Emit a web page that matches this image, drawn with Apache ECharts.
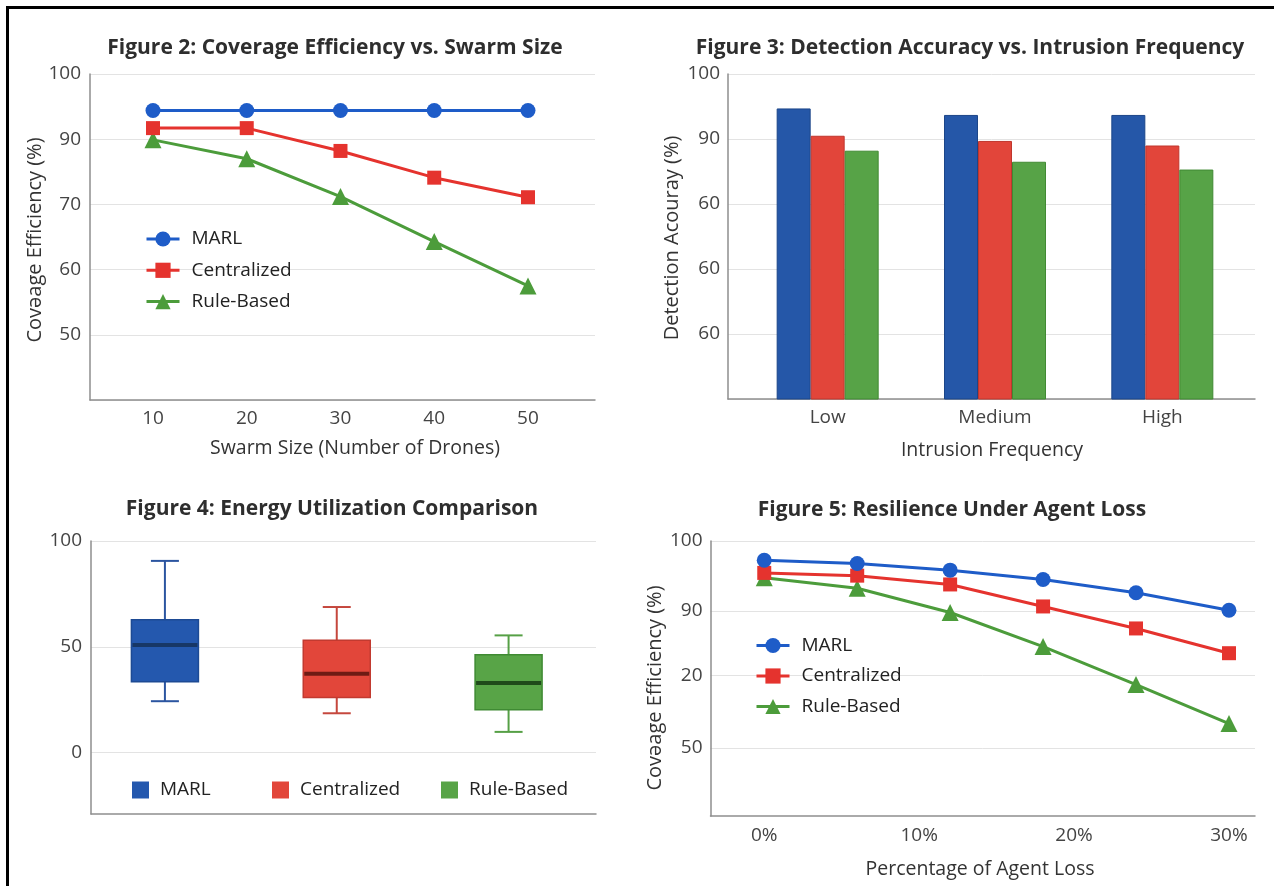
<!DOCTYPE html>
<html><head><meta charset="utf-8">
<script src="https://cdn.jsdelivr.net/npm/echarts@6/dist/echarts.min.js"></script>
<style>
html,body{margin:0;padding:0;background:#fff;}
#chart{position:absolute;left:0;top:0;width:1274px;height:886px;}
#frame{position:absolute;left:6px;top:6px;width:1268px;height:880px;border-left:3px solid #000;border-top:3px solid #000;box-sizing:border-box;pointer-events:none;}
</style></head><body>
<div id="chart"></div><div id="frame"></div>
<script>
// ---------------- data ----------------
const seriesNames = ['MARL', 'Centralized', 'Rule-Based'];
// Figure 2
const swarmSizes = [10, 20, 30, 40, 50];
const cov2MARL = [94.4, 94.4, 94.4, 94.4, 94.4];
const cov2Central = [91.7, 91.7, 88.2, 84.1, 81.1];
const cov2Rule = [89.9, 87.0, 81.2, 74.3, 67.5];
const fig2YTickLabels = ['', '50', '60', '70', '90', '100'];
// Figure 3
const intrusionFreq = ['Low', 'Medium', 'High'];
const det3MARL = [94.7, 93.7, 93.7];
const det3Central = [90.5, 89.7, 89.0];
const det3Rule = [88.2, 86.5, 85.3];
const fig3YTickLabels = ['', '60', '60', '60', '90', '100'];
// Figure 4: [min, Q1, median, Q3, max]
const energyMARL = [24.3, 33.5, 50.9, 62.8, 90.6];
const energyCentral = [18.6, 26.0, 37.3, 53.1, 68.8];
const energyRule = [9.8, 20.3, 32.9, 46.3, 55.4];
const fig4YTicks = [0, 50, 100];
// Figure 5
const agentLoss = [0, 6, 12, 18, 24, 30];
const res5MARL = [96.5, 95.9, 94.7, 93.0, 90.6, 87.4];
const res5Central = [94.2, 93.7, 92.1, 88.1, 84.1, 79.6];
const res5Rule = [93.3, 91.4, 87.0, 80.8, 73.9, 66.8];
const fig5XTicks = [0, 10, 20, 30];
const fig5YTickValues = [62.4, 75.6, 87.3, 100];
const fig5YTickLabels = ['50', '20', '90', '100'];

// ---------------- styles ----------------
const FONT = '"Open Sans", "Noto Sans", sans-serif';
const lineColors = ['#1e5cc8', '#e5332e', '#4c9c3b'];
const barColors = ['#2557a8', '#e2453a', '#57a347'];
const barBorders = ['#1c4689', '#c0362d', '#418a33'];
const boxFill = ['#2458ae', '#e2463a', '#58a447'];
const boxBorder = ['#1d4a94', '#c23a30', '#3f8a33'];
const boxMedian = ['#173766', '#6e1b14', '#1f4a1a'];
const boxWhisker = ['#2b55a0', '#c5473d', '#56a046'];
const symbols = ['circle', 'rect', 'triangle'];
const symbolSizes = [15, 14, 17];

const axisLineStyle = { show: true, onZero: false, lineStyle: { color: '#8e8e8e', width: 1.5 } };
const splitLineStyle = { show: true, lineStyle: { color: '#e3e3e3', width: 1 } };
const tickLabel = { color: '#444', fontSize: 19, fontFamily: FONT };

const zip = (xs, ys) => xs.map((x, i) => [x, ys[i]]);

const chart = echarts.init(document.getElementById('chart'), null, { renderer: 'canvas' });

const grids = [
  { left: 90, top: 74, width: 505, height: 326 },      // 0 fig2
  { left: 728, top: 74, width: 527, height: 325 },     // 1 fig3 frame
  { left: 744, top: 74, width: 502, height: 325 },     // 2 fig3 bars
  { left: 91, top: 541, width: 505, height: 273 },     // 3 fig4 frame
  { left: 79, top: 541, width: 515.5, height: 273 },   // 4 fig4 boxes
  { left: 710.5, top: 541, width: 544.5, height: 275 } // 5 fig5
];

const xAxes = [
  { gridIndex: 0, type: 'value', min: 3.28, max: 57.15, axisLine: axisLineStyle, axisTick: { show: false, customValues: swarmSizes },
    axisLabel: Object.assign({ margin: 9, customValues: swarmSizes }, tickLabel), splitLine: { show: false } },
  { gridIndex: 1, type: 'value', min: 0, max: 1, axisLine: axisLineStyle, axisTick: { show: false }, axisLabel: { show: false }, splitLine: { show: false } },
  { gridIndex: 2, type: 'category', data: intrusionFreq, axisLine: { show: false }, axisTick: { show: false },
    axisLabel: Object.assign({ margin: 9 }, tickLabel), splitLine: { show: false } },
  { gridIndex: 3, type: 'value', min: 0, max: 1, axisLine: axisLineStyle, axisTick: { show: false }, axisLabel: { show: false }, splitLine: { show: false } },
  { gridIndex: 4, type: 'category', data: seriesNames, show: false },
  { gridIndex: 5, type: 'value', min: -3.47, max: 31.68, axisLine: axisLineStyle, axisTick: { show: false, customValues: fig5XTicks },
    axisLabel: Object.assign({ margin: 10, customValues: fig5XTicks, formatter: '{value}%' }, tickLabel), splitLine: { show: false } }
];

const yAxes = [
  { gridIndex: 0, type: 'value', min: 50, max: 100, interval: 10, axisLine: axisLineStyle, axisTick: { show: false },
    axisLabel: Object.assign({ margin: 9, formatter: v => fig2YTickLabels[Math.round((v - 50) / 10)] }, tickLabel), splitLine: splitLineStyle },
  { gridIndex: 1, type: 'value', min: 50, max: 100, interval: 10, axisLine: axisLineStyle, axisTick: { show: false },
    axisLabel: Object.assign({ margin: 8, formatter: v => fig3YTickLabels[Math.round((v - 50) / 10)] }, tickLabel), splitLine: splitLineStyle },
  { gridIndex: 2, type: 'value', min: 50, max: 100, show: false, splitLine: { show: false } },
  { gridIndex: 3, type: 'value', min: -29, max: 100, axisLine: axisLineStyle, axisTick: { show: false, customValues: fig4YTicks },
    axisLabel: Object.assign({ margin: 9, customValues: fig4YTicks }, tickLabel), splitLine: splitLineStyle },
  { gridIndex: 4, type: 'value', min: -29, max: 100, show: false, splitLine: { show: false } },
  { gridIndex: 5, type: 'value', min: 50, max: 100, axisLine: axisLineStyle, axisTick: { show: false, customValues: fig5YTickValues },
    axisLabel: Object.assign({ margin: 8, customValues: fig5YTickValues,
      formatter: v => { const i = fig5YTickValues.findIndex(t => Math.abs(t - v) < 1e-6); return i >= 0 ? fig5YTickLabels[i] : ''; } }, tickLabel),
    splitLine: splitLineStyle }
];

function lineSeries(name, idx, axisIndex, data) {
  return {
    name, type: 'line', xAxisIndex: axisIndex, yAxisIndex: axisIndex, data,
    symbol: symbols[idx], symbolSize: symbolSizes[idx], showSymbol: true,
    lineStyle: { color: lineColors[idx], width: 3 },
    itemStyle: { color: lineColors[idx] }, z: 3 + (2 - idx), animation: false
  };
}
function barSeries(name, idx, data) {
  return {
    name, type: 'bar', xAxisIndex: 2, yAxisIndex: 2, data, barWidth: 34, barGap: '0%',
    itemStyle: { color: barColors[idx], borderColor: barBorders[idx], borderWidth: 1 }, animation: false
  };
}
function boxSeries(name, idx, stats) {
  return {
    name, type: 'custom', xAxisIndex: 4, yAxisIndex: 4,
    data: [[idx].concat(stats)], encode: { x: 0, y: [1, 2, 3, 4, 5] },
    itemStyle: { color: boxFill[idx] }, animation: false,
    renderItem: (params, api) => {
      const x = api.value(0);
      const pMin = api.coord([x, api.value(1)]);
      const pQ1 = api.coord([x, api.value(2)]);
      const pMed = api.coord([x, api.value(3)]);
      const pQ3 = api.coord([x, api.value(4)]);
      const pMax = api.coord([x, api.value(5)]);
      const cx = pMin[0], hw = 33.5, cw = 14;
      const ws = { stroke: boxWhisker[idx], lineWidth: 2 };
      return { type: 'group', children: [
        { type: 'line', shape: { x1: cx, y1: pMax[1], x2: cx, y2: pQ3[1] }, style: ws },
        { type: 'line', shape: { x1: cx, y1: pQ1[1], x2: cx, y2: pMin[1] }, style: ws },
        { type: 'line', shape: { x1: cx - cw, y1: pMax[1], x2: cx + cw, y2: pMax[1] }, style: ws },
        { type: 'line', shape: { x1: cx - cw, y1: pMin[1], x2: cx + cw, y2: pMin[1] }, style: ws },
        { type: 'rect', shape: { x: cx - hw, y: pQ3[1], width: 2 * hw, height: pQ1[1] - pQ3[1] },
          style: { fill: boxFill[idx], stroke: boxBorder[idx], lineWidth: 1.5 } },
        { type: 'line', shape: { x1: cx - hw + 1, y1: pMed[1], x2: cx + hw - 1, y2: pMed[1] },
          style: { stroke: boxMedian[idx], lineWidth: 4 } }
      ] };
    }
  };
}

const series = [
  lineSeries('MARL', 0, 0, zip(swarmSizes, cov2MARL)),
  lineSeries('Centralized', 1, 0, zip(swarmSizes, cov2Central)),
  lineSeries('Rule-Based', 2, 0, zip(swarmSizes, cov2Rule)),
  barSeries('MARL', 0, det3MARL),
  barSeries('Centralized', 1, det3Central),
  barSeries('Rule-Based', 2, det3Rule),
  boxSeries('MARL', 0, energyMARL),
  boxSeries('Centralized', 1, energyCentral),
  boxSeries('Rule-Based', 2, energyRule),
  lineSeries('MARL', 0, 5, zip(agentLoss, res5MARL)),
  lineSeries('Centralized', 1, 5, zip(agentLoss, res5Central)),
  lineSeries('Rule-Based', 2, 5, zip(agentLoss, res5Rule))
];

const legendText = { fontSize: 19, color: '#222', fontFamily: FONT, padding: [0, 0, 0, 7] };
const lineLegend = (left, top, gap) => ({
  data: seriesNames, orient: 'vertical', left, top, padding: 0, itemWidth: 33, itemHeight: 19, itemGap: gap,
  lineStyle: { width: 3 }, textStyle: legendText, selectedMode: false
});
const boxLegend = (i, left) => ({
  data: [{ name: seriesNames[i], icon: 'rect', itemStyle: { color: boxFill[i], borderColor: boxFill[i] } }],
  left, top: 780.5, padding: 0, itemWidth: 17, itemHeight: 17,
  textStyle: Object.assign({}, legendText, { padding: [0, 0, 0, 6] }), selectedMode: false
});

const title = (text, x, y) => ({ type: 'text', x, y, style: { text, fontSize: 21, fontWeight: 'bold', fontFamily: FONT, fill: '#2e2e2e', align: 'center', verticalAlign: 'middle' } });
const label = (text, x, y, size, rot) => ({ type: 'text', x, y, rotation: rot || 0, style: { text, fontSize: size, fontFamily: FONT, fill: '#333', align: 'center', verticalAlign: 'middle' } });

chart.setOption({
  animation: false,
  textStyle: { fontFamily: FONT },
  grid: grids,
  xAxis: xAxes,
  yAxis: yAxes,
  legend: [
    lineLegend(145, 229.5, 12.3),
    boxLegend(0, 132), boxLegend(1, 272), boxLegend(2, 441),
    lineLegend(755, 636, 11.5)
  ],
  series,
  graphic: [
    title('Figure 2: Coverage Efficiency vs. Swarm Size', 335, 48),
    title('Figure 3: Detection Accuracy vs. Intrusion Frequency', 970, 48),
    title('Figure 4: Energy Utilization Comparison', 332, 509),
    title('Figure 5: Resilience Under Agent Loss', 952, 510),
    label('Swarm Size (Number of Drones)', 355, 448, 19.5),
    label('Intrusion Frequency', 992, 450, 19.5),
    label('Percentage of Agent Loss', 980, 869, 19.5),
    label('Covəage Efficiency (%)', 35, 240, 20, Math.PI / 2),
    label('Detection Acouray (%)', 672, 238, 20, Math.PI / 2),
    label('Covəage Efficiency (%)', 655, 688, 20, Math.PI / 2)
  ]
});
</script>
</body></html>
